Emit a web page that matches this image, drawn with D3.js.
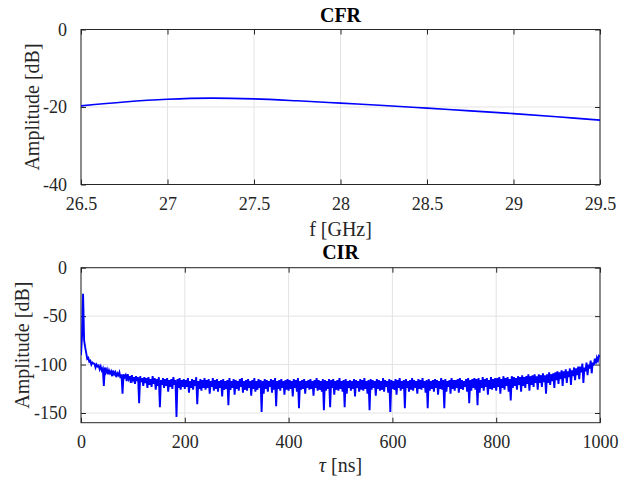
<!DOCTYPE html>
<html>
<head>
<meta charset="utf-8">
<script src="https://cdn.jsdelivr.net/npm/d3@7"></script>
<style>
  html, body { margin: 0; padding: 0; background: #fff; }
  svg { display: block; font-family: "Liberation Serif", "Times New Roman", serif; }
</style>
</head>
<body>
<svg id="chart" width="636" height="481"></svg>
<script>
// ---------- DATA ----------
const cfrFreqGHz = [26.5, 26.75, 27.0, 27.25, 27.5, 27.75, 28.0, 28.25, 28.5, 28.75, 29.0, 29.25, 29.5];
const cfrAmpDb   = [-19.7, -18.7, -18.0, -17.7, -17.9, -18.4, -19.0, -19.6, -20.3, -21.0, -21.7, -22.5, -23.4];

// CIR samples at tau = 0, 4, 8, ... 1000 ns
const cirStepNs = 4;
const cirAmpDb = [
  -90, -27, -82, -94, -97, -100, -99, -103, -102, -105,
  -106, -122, -108, -110, -109, -112, -110, -113, -111, -114,
  -130, -113, -117, -115, -119, -116, -120, -117, -140, -118,
  -122, -119, -124, -121, -123, -120, -126, -122, -144, -121,
  -124, -122, -128, -123, -125, -121, -154, -124, -126, -123,
  -125, -123, -129, -124, -126, -122, -141, -125, -127, -124,
  -126, -124, -130, -123, -127, -125, -128, -124, -133, -126,
  -125, -142, -126, -124, -131, -125, -127, -123, -129, -126,
  -127, -124, -132, -125, -128, -126, -124, -149, -130, -125,
  -128, -123, -129, -126, -143, -125, -127, -124, -131, -126,
  -127, -125, -133, -124, -128, -145, -126, -125, -130, -124,
  -126, -125, -132, -124, -127, -126, -128, -147, -127, -125,
  -144, -124, -131, -126, -127, -125, -128, -144, -130, -124,
  -127, -125, -133, -124, -128, -126, -127, -125, -130, -147,
  -126, -124, -132, -125, -127, -126, -128, -123, -129, -149,
  -125, -126, -131, -124, -127, -125, -145, -124, -128, -126,
  -127, -124, -130, -125, -126, -124, -129, -145, -127, -125,
  -128, -124, -131, -125, -126, -145, -128, -123, -130, -125,
  -127, -124, -129, -125, -126, -123, -128, -140, -127, -124,
  -126, -142, -129, -124, -127, -123, -131, -125, -126, -124,
  -127, -123, -130, -124, -126, -122, -128, -137, -124, -122,
  -126, -121, -128, -122, -124, -120, -127, -121, -123, -119,
  -126, -119, -123, -118, -130, -119, -121, -117, -124, -116,
  -120, -115, -122, -114, -119, -113, -121, -112, -116, -111,
  -115, -108, -119, -107, -111, -104, -109, -101, -99, -96,
  -92
];
// CIR samples at the half steps tau = 2, 6, 10, ... 998 ns
const cirAmpHalfDb = [
  -70, -75, -88, -93, -96, -98, -99, -100, -101, -102,
  -104, -103, -105, -106, -107, -106, -108, -109, -108, -110,
  -110, -111, -110, -112, -111, -113, -112, -113, -112, -114,
  -113, -114, -113, -115, -112, -114, -115, -113, -116, -114,
  -115, -114, -116, -115, -113, -116, -115, -114, -116, -115,
  -116, -114, -117, -115, -116, -113, -117, -115, -116, -114,
  -116, -115, -117, -114, -116, -115, -117, -116, -115, -117,
  -116, -114, -117, -115, -116, -117, -115, -114, -117, -116,
  -115, -117, -116, -114, -117, -115, -116, -117, -115, -116,
  -117, -115, -116, -114, -117, -116, -115, -117, -116, -115,
  -116, -117, -115, -116, -114, -117, -116, -115, -117, -116,
  -115, -117, -116, -114, -116, -117, -115, -116, -117, -115,
  -116, -115, -117, -116, -114, -117, -116, -115, -117, -116,
  -117, -115, -116, -117, -115, -116, -114, -117, -116, -115,
  -116, -117, -115, -116, -117, -114, -116, -117, -115, -116,
  -117, -115, -116, -114, -117, -116, -115, -117, -116, -114,
  -116, -117, -115, -116, -114, -117, -116, -115, -117, -116,
  -115, -116, -117, -114, -116, -115, -117, -116, -114, -116,
  -116, -115, -114, -116, -117, -115, -114, -116, -115, -114,
  -115, -114, -116, -113, -115, -114, -116, -113, -115, -114,
  -114, -113, -115, -112, -114, -113, -115, -112, -113, -114,
  -112, -113, -111, -113, -112, -110, -112, -111, -110, -112,
  -110, -111, -109, -111, -110, -108, -110, -109, -108, -107,
  -108, -106, -107, -105, -107, -104, -106, -103, -104, -102,
  -102, -99, -103, -98, -100, -96, -98, -94, -93, -91
];

const cfrXTicks = [26.5, 27, 27.5, 28, 28.5, 29, 29.5];
const cfrYTicks = [-40, -20, 0];
const cirXTicks = [0, 200, 400, 600, 800, 1000];
const cirYTicks = [-150, -100, -50, 0];

// ---------- DRAW ----------
const svg = d3.select("#chart");
const axisColor = "#262626";
const gridColor = "#e3e3e3";
const lineColor = "#0000ff";
const tickLen = 5;

function panel(opt) {
  const { left, right, top, bottom, xDomain, yDomain, xTicks, yTicks, xFmt, title, titleY, yLabelX, id } = opt;
  const x = d3.scaleLinear().domain(xDomain).range([left, right]);
  const y = d3.scaleLinear().domain(yDomain).range([bottom, top]);
  const g = svg.append("g");

  g.selectAll(".gx").data(xTicks).join("line")
    .attr("x1", d => x(d)).attr("x2", d => x(d))
    .attr("y1", top).attr("y2", bottom)
    .attr("stroke", gridColor).attr("stroke-width", 1);
  g.selectAll(".gy").data(yTicks).join("line")
    .attr("x1", left).attr("x2", right)
    .attr("y1", d => y(d)).attr("y2", d => y(d))
    .attr("stroke", gridColor).attr("stroke-width", 1);

  svg.append("clipPath").attr("id", id)
    .append("rect").attr("x", left).attr("y", top)
    .attr("width", right - left).attr("height", bottom - top);

  const xAxisB = d3.axisBottom(x).tickValues(xTicks).tickSizeInner(-tickLen).tickSizeOuter(0).tickFormat(xFmt).tickPadding(13);
  const xAxisT = d3.axisTop(x).tickValues(xTicks).tickSizeInner(-tickLen).tickSizeOuter(0).tickFormat("");
  const yAxisL = d3.axisLeft(y).tickValues(yTicks).tickSizeInner(-tickLen).tickSizeOuter(0).tickFormat(d3.format("d")).tickPadding(14);
  const yAxisR = d3.axisRight(y).tickValues(yTicks).tickSizeInner(-tickLen).tickSizeOuter(0).tickFormat("");

  const axes = [
    g.append("g").attr("transform", `translate(0,${bottom})`).call(xAxisB),
    g.append("g").attr("transform", `translate(0,${top})`).call(xAxisT),
    g.append("g").attr("transform", `translate(${left},0)`).call(yAxisL),
    g.append("g").attr("transform", `translate(${right},0)`).call(yAxisR)
  ];
  axes.forEach(a => {
    a.select(".domain").remove();
    a.selectAll("line").attr("stroke", axisColor).attr("stroke-width", 1);
    a.selectAll("text").attr("fill", axisColor)
      .style("font-family", '"Liberation Serif", "Times New Roman", serif')
      .style("font-size", "18px");
  });
  axes[2].selectAll("text").text(d => d < 0 ? "-" + Math.abs(d) : String(d));

  g.append("rect").attr("x", left).attr("y", top)
    .attr("width", right - left).attr("height", bottom - top)
    .attr("fill", "none").attr("stroke", axisColor).attr("stroke-width", 1);

  svg.append("text").attr("x", (left + right) / 2).attr("y", titleY)
    .attr("text-anchor", "middle").attr("font-weight", "bold")
    .attr("font-size", 20).attr("fill", "#000").text(title);

  svg.append("text")
    .attr("transform", `translate(${yLabelX},${(top + bottom) / 2}) rotate(-90)`)
    .attr("text-anchor", "middle").attr("font-size", 20).attr("fill", axisColor)
    .text("Amplitude [dB]");

  return { x, y, g };
}

const topPanel = panel({
  id: "clipTop", left: 81, right: 600, top: 29.5, bottom: 184.5,
  xDomain: [26.5, 29.5], yDomain: [-40, 0],
  xTicks: cfrXTicks, yTicks: cfrYTicks, xFmt: d3.format("~g"),
  title: "CFR", titleY: 22, yLabelX: 39
});
svg.append("text").attr("x", 340.5).attr("y", 236).attr("text-anchor", "middle")
  .attr("font-size", 20).attr("fill", axisColor).text("f [GHz]");

const topLine = d3.line()
  .x((d, i) => topPanel.x(cfrFreqGHz[i]))
  .y(d => topPanel.y(d))
  .curve(d3.curveCatmullRom);
svg.append("path").datum(cfrAmpDb)
  .attr("clip-path", "url(#clipTop)")
  .attr("d", topLine).attr("fill", "none")
  .attr("stroke", lineColor).attr("stroke-width", 1.6);

const botPanel = panel({
  id: "clipBot", left: 81, right: 600, top: 267.7, bottom: 422.7,
  xDomain: [0, 1000], yDomain: [-160, 0],
  xTicks: cirXTicks, yTicks: cirYTicks, xFmt: d3.format("d"),
  title: "CIR", titleY: 259, yLabelX: 29
});
const tauLabel = svg.append("text").attr("x", 340.5).attr("y", 472).attr("text-anchor", "middle")
  .attr("font-size", 20).attr("fill", axisColor);
tauLabel.append("tspan").attr("font-style", "italic").text("τ");
tauLabel.append("tspan").text(" [ns]");

const cirPoints = [];
cirAmpDb.forEach((v, i) => {
  cirPoints.push({ t: i * cirStepNs, v });
  if (i < cirAmpHalfDb.length) cirPoints.push({ t: i * cirStepNs + cirStepNs / 2, v: cirAmpHalfDb[i] });
});

const botLine = d3.line()
  .x(d => botPanel.x(d.t))
  .y(d => botPanel.y(d.v));
svg.append("path").datum(cirPoints)
  .attr("clip-path", "url(#clipBot)")
  .attr("d", botLine).attr("fill", "none")
  .attr("stroke", lineColor).attr("stroke-width", 1.9)
  .attr("stroke-linejoin", "miter");
</script>
</body>
</html>
